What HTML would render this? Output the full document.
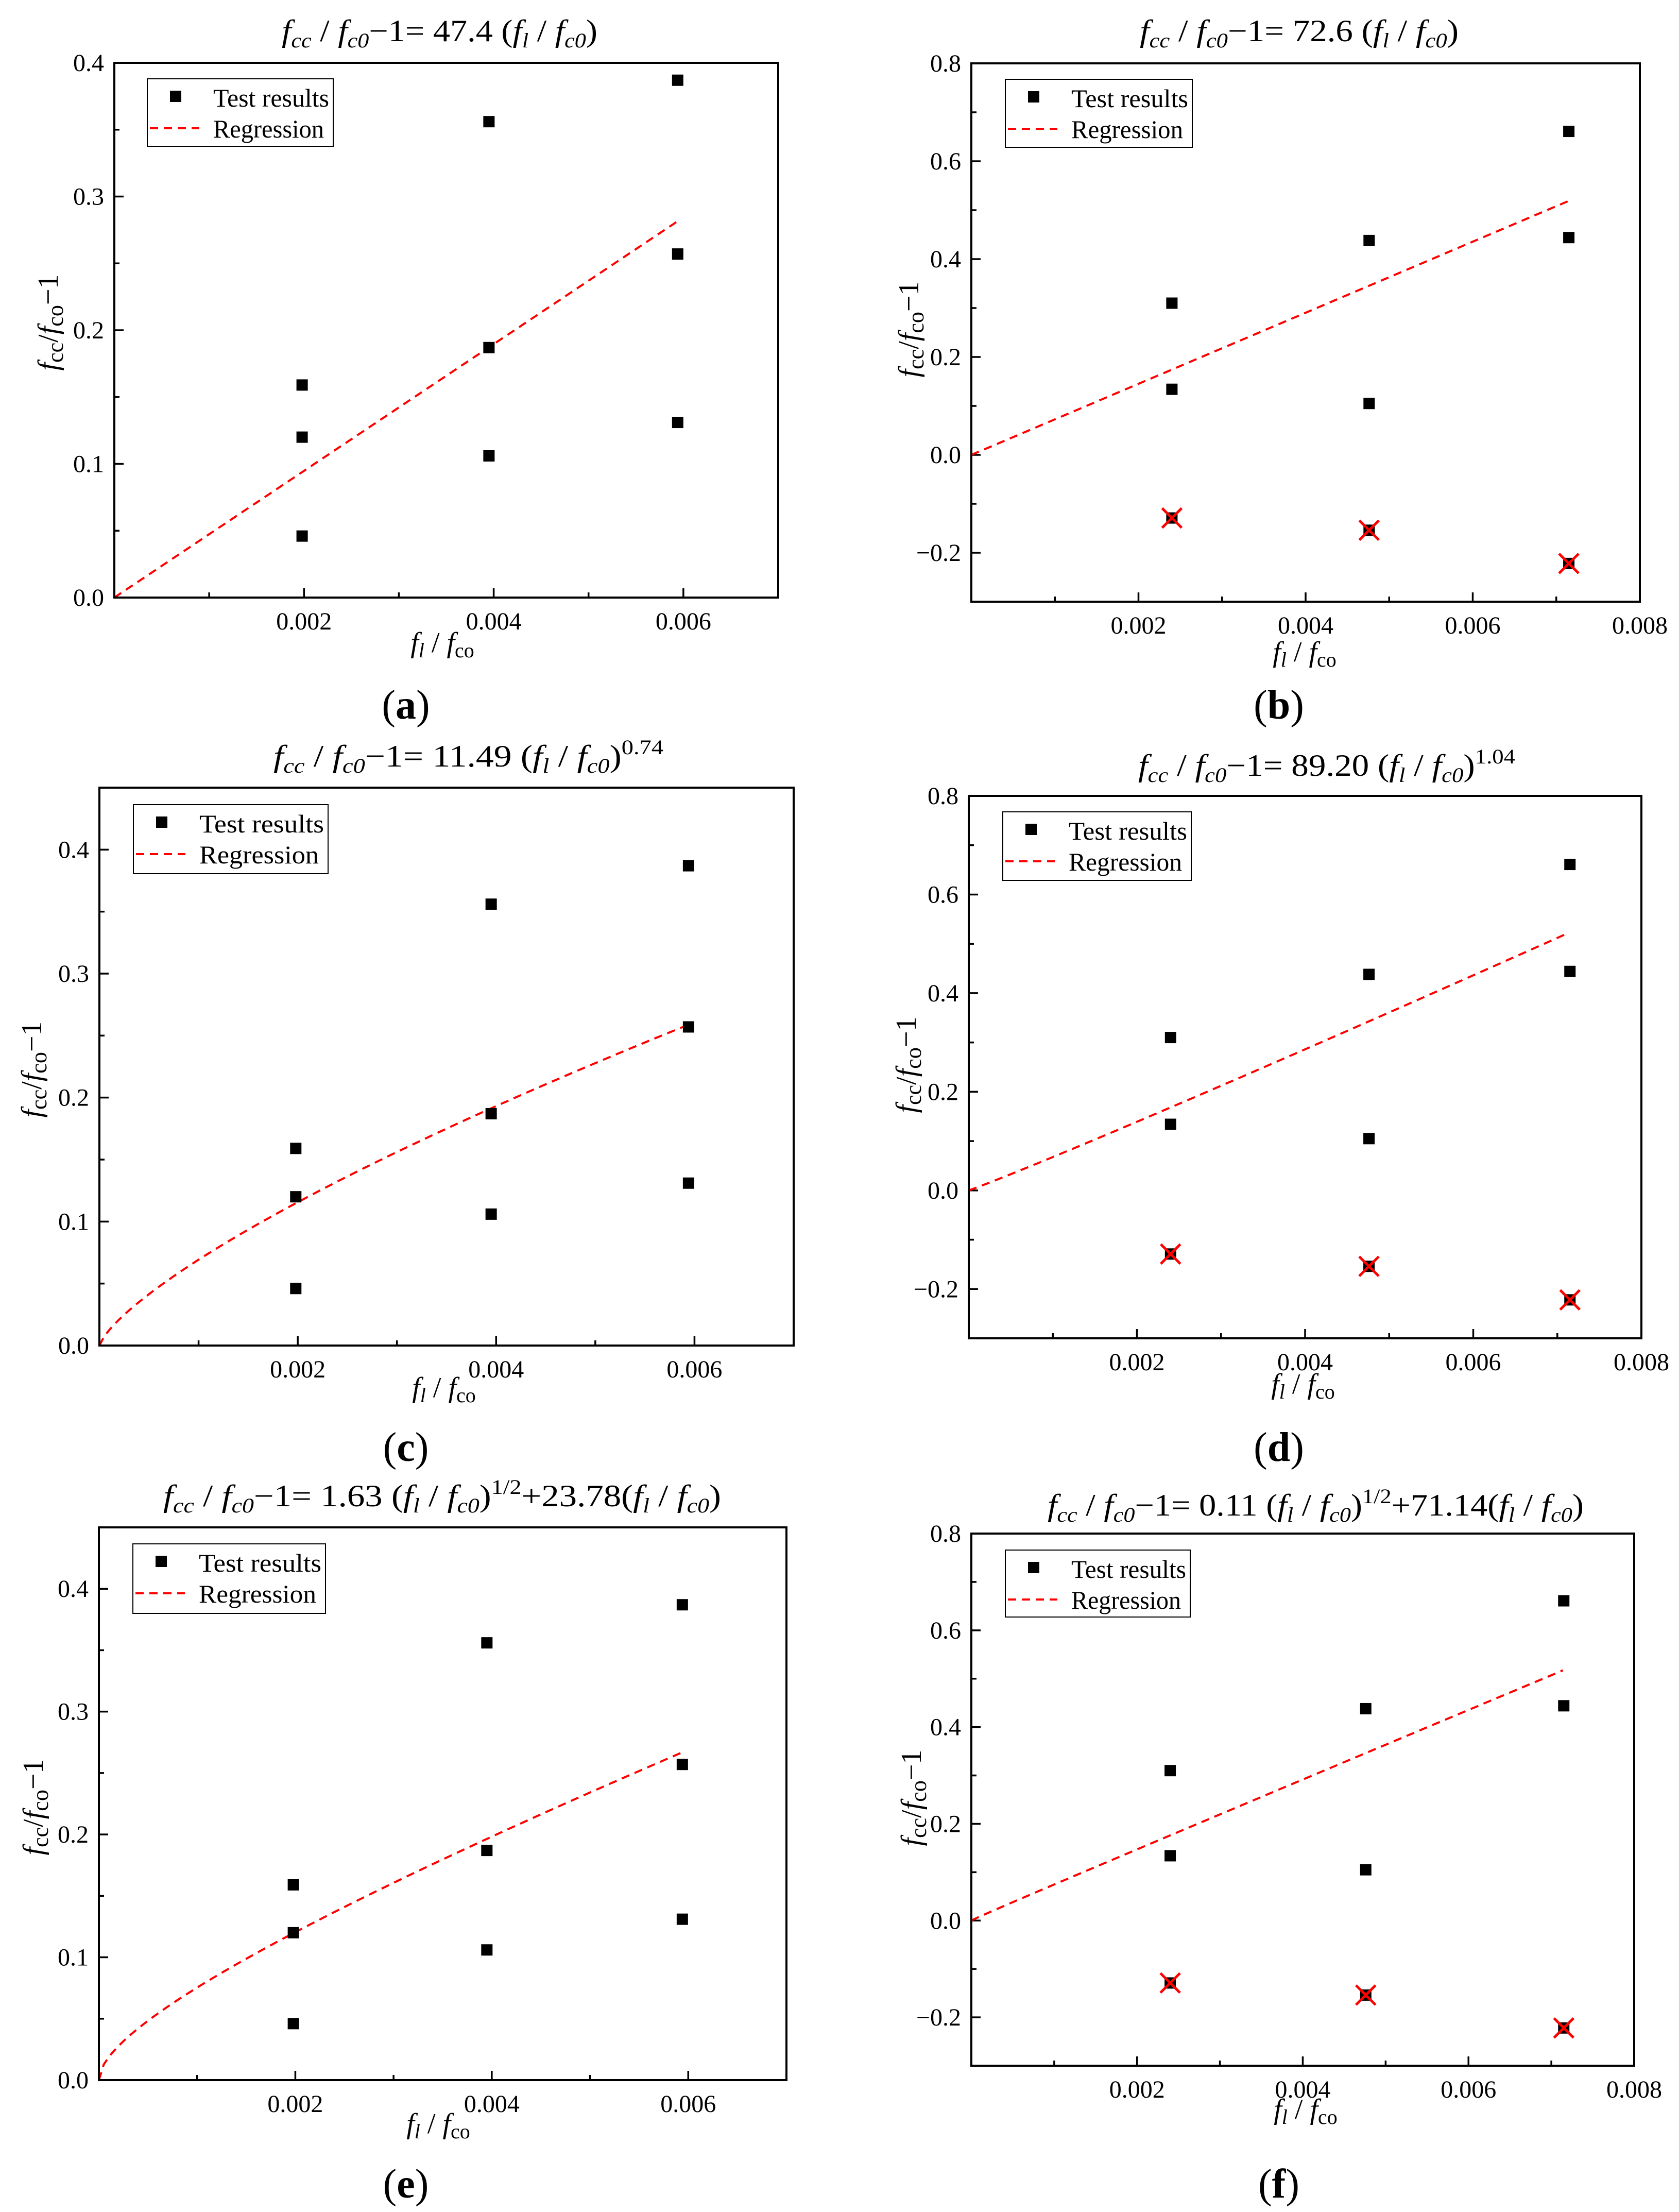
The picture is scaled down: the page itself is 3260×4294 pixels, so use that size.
<!DOCTYPE html>
<html><head><meta charset="utf-8"><style>
html,body{margin:0;padding:0;background:#fff}
svg{display:block}
svg text{font-family:"Liberation Serif","Times New Roman",serif;fill:#000}
</style></head><body>
<svg id="fig" xmlns="http://www.w3.org/2000/svg" width="3260" height="4294" viewBox="0 0 3260 4294" font-family="Liberation Serif, serif"></svg>
<script>
// ---- data ----
const xTestACE = [0.00198,0.00198,0.00198,0.00395,0.00395,0.00395,0.00594,0.00594,0.00594];
const yTestACE = [0.159,0.120,0.046,0.356,0.187,0.106,0.387,0.257,0.131];
const xTestBDF = [0.0024,0.0024,0.0024,0.00476,0.00476,0.00476,0.00715,0.00715,0.00715];
const yTestBDF = [0.310,0.134,-0.129,0.438,0.105,-0.154,0.661,0.444,-0.222];
const excludedBDF = [false,false,true,false,false,true,false,false,true];
const coefA = [47.4];
const coefB = [72.6];
const coefC = [11.49,0.74];
const coefD = [89.20,1.04];
const coefE = [1.63,23.78];
const coefF = [0.11,71.14];
const xTickValsACE = [0.002,0.004,0.006];
const xTickLabelsACE = ["0.002","0.004","0.006"];
const xTickValsBDF = [0.002,0.004,0.006,0.008];
const xTickLabelsBDF = ["0.002","0.004","0.006","0.008"];
const yTickValsACE = [0,0.1,0.2,0.3,0.4];
const yTickLabelsACE = ["0.0","0.1","0.2","0.3","0.4"];
const yTickValsBDF = [-0.2,0,0.2,0.4,0.6,0.8];
const yTickLabelsBDF = ["\u22120.2","0.0","0.2","0.4","0.6","0.8"];

const NS="http://www.w3.org/2000/svg";
const svg=document.getElementById('fig');
const FF='Liberation Serif, serif';
function mk(tag,attrs,parent){const e=document.createElementNS(NS,tag);for(const k in attrs)e.setAttribute(k,attrs[k]);if(tag==='text')e.setAttribute('font-family',FF);(parent||svg).appendChild(e);return e;}

const sub=(s,it)=>`<tspan ${it?'font-style="italic" ':''}font-size="40" dy="12">${s}</tspan>`;
const F='<tspan font-style="italic">f</tspan>';
const head=F+sub('cc',1)+'<tspan dy="-12"> / </tspan>'+F+sub('c0',1);
const ratio=F+sub('l',1)+'<tspan dy="-12"> / </tspan>'+F+sub('c0',1);

const panels=[
 {id:'a',L:222,R:1511,T:122,B:1160,xmax:0.007,ymin:0,ymax:0.4,grp:'ACE',fn:x=>coefA[0]*x,xend:0.00594,
  title:head+'<tspan dy="-12">\u22121= 47.4 (</tspan>'+ratio+'<tspan dy="-12">)</tspan>',
  tx0:547,tx1:1160,ty:80,ylx:94,yly:626,xlx:859,xly:1274,lx:286,ly:153,lw:361,lh:131,px:788,py:1395},
 {id:'b',L:1886,R:3184,T:123,B:1168,xmax:0.008,ymin:-0.3,ymax:0.8,grp:'BDF',fn:x=>coefB[0]*x,xend:0.00714,
  title:head+'<tspan dy="-12">\u22121= 72.6 (</tspan>'+ratio+'<tspan dy="-12">)</tspan>',
  tx0:2213,tx1:2832,ty:80,ylx:1765,yly:639,xlx:2533,xly:1292,lx:1952,ly:154,lw:363,lh:132,px:2483,py:1395},
 {id:'c',L:193,R:1541,T:1529,B:2612,xmax:0.007,ymin:0,ymax:0.45,grp:'ACE',fn:x=>coefC[0]*Math.pow(x,coefC[1]),xend:0.00594,
  title:head+'<tspan dy="-12">\u22121= 11.49 (</tspan>'+ratio+'<tspan dy="-12">)</tspan><tspan font-size="40" dy="-24">0.74</tspan>',
  tx0:531,tx1:1288,ty:1488,ylx:62,yly:2076,xlx:862,xly:2720,lx:259,ly:1562,lw:378,lh:134,px:788,py:2836},
 {id:'d',L:1881,R:3187,T:1545,B:2598,xmax:0.008,ymin:-0.3,ymax:0.8,grp:'BDF',fn:x=>coefD[0]*Math.pow(x,coefD[1]),xend:0.00714,
  title:head+'<tspan dy="-12">\u22121= 89.20 (</tspan>'+ratio+'<tspan dy="-12">)</tspan><tspan font-size="40" dy="-24">1.04</tspan>',
  tx0:2210,tx1:2942,ty:1506,ylx:1760,yly:2067,xlx:2530,xly:2713,lx:1947,ly:1576,lw:366,lh:133,px:2483,py:2836},
 {id:'e',L:192,R:1527,T:2965,B:4038,xmax:0.007,ymin:0,ymax:0.45,grp:'ACE',fn:x=>coefE[0]*Math.sqrt(x)+coefE[1]*x,xend:0.00594,
  title:head+'<tspan dy="-12">\u22121= 1.63 (</tspan>'+ratio+'<tspan dy="-12">)</tspan><tspan font-size="40" dy="-24">1/2</tspan><tspan dy="24">+23.78(</tspan>'+ratio+'<tspan dy="-12">)</tspan>',
  tx0:317,tx1:1400,ty:2924,ylx:65,yly:3508,xlx:851,xly:4149,lx:258,ly:2997,lw:374,lh:135,px:788,py:4266},
 {id:'f',L:1886,R:3173,T:2977,B:4010,xmax:0.008,ymin:-0.3,ymax:0.8,grp:'BDF',fn:x=>coefF[0]*Math.sqrt(x)+coefF[1]*x,xend:0.00714,
  title:head+'<tspan dy="-12">\u22121= 0.11 (</tspan>'+ratio+'<tspan dy="-12">)</tspan><tspan font-size="40" dy="-24">1/2</tspan><tspan dy="24">+71.14(</tspan>'+ratio+'<tspan dy="-12">)</tspan>',
  tx0:2034,tx1:3075,ty:2942,ylx:1770,yly:3490,xlx:2535,xly:4121,lx:1952,ly:3009,lw:359,lh:130,px:2483,py:4266}
];

panels.forEach(p=>{
  const g=mk('g',{});
  
  
  const xs=v=>p.L+(v/p.xmax)*(p.R-p.L);
  const ys=v=>p.B-(v-p.ymin)/(p.ymax-p.ymin)*(p.B-p.T);
  const ace=p.grp==='ACE';
  const xd=ace?xTestACE:xTestBDF, yd=ace?yTestACE:yTestBDF;
  const xtv=ace?xTickValsACE:xTickValsBDF, xtl=ace?xTickLabelsACE:xTickLabelsBDF;
  const ytv=ace?yTickValsACE:yTickValsBDF, ytl=ace?yTickLabelsACE:yTickLabelsBDF;

  const t=mk('text',{x:(p.tx0+p.tx1)/2,y:p.ty,'font-size':60,'text-anchor':'middle',textLength:p.tx1-p.tx0,lengthAdjust:'spacingAndGlyphs'},g);
  t.innerHTML=p.title;
  
  

  const ystep=ace?0.05:0.1;
  for(let v=p.ymin;v<=p.ymax+1e-9;v+=ystep){
    const yy=ys(v);
    const major=ytv.some(m=>Math.abs(m-v)<1e-6);
    const tk=mk('line',{x1:p.L,x2:p.L+(major?18:10),y1:yy,y2:yy,stroke:'#000','stroke-width':3.5},g);
    
    
  }
  for(let v=0.001;v<p.xmax-1e-9;v+=0.001){
    const xx=xs(v);
    const major=xtv.some(m=>Math.abs(m-v)<1e-6);
    const tk=mk('line',{x1:xx,x2:xx,y1:p.B,y2:p.B-(major?18:10),stroke:'#000','stroke-width':3.5},g);
    
    
  }
  xtv.forEach((v,i)=>{
    const tl=mk('text',{x:xs(v),y:p.B+62,'font-size':48,'text-anchor':'middle'},g);
    tl.textContent=xtl[i];
    
    
  });
  ytv.forEach((v,i)=>{
    const tl=mk('text',{x:p.L-20,y:ys(v)+16,'font-size':48,'text-anchor':'end'},g);
    tl.textContent=ytl[i];
    
    
  });

  const pts=[];
  for(let i=0;i<=120;i++){const x=p.xend*i/120;pts.push(xs(x).toFixed(1)+','+ys(p.fn(x)).toFixed(1));}
  const rl=mk('polyline',{points:pts.join(' '),fill:'none',stroke:'#ff0000','stroke-width':4,'stroke-dasharray':'16,11'},g);
  
  

  xd.forEach((x,i)=>{
    const cx=xs(x),cy=ys(yd[i]);
    const r=mk('rect',{x:cx-11,y:cy-11,width:22,height:22,fill:'#000'},g);
    
    
    if(!ace && excludedBDF[i]){
      const c=mk('path',{d:`M${cx-19},${cy-19}L${cx+19},${cy+19}M${cx+19},${cy-19}L${cx-19},${cy+19}`,stroke:'#ff0000','stroke-width':5,fill:'none'},g);
      
      
    }
  });

  const fr=mk('rect',{x:p.L,y:p.T,width:p.R-p.L,height:p.B-p.T,fill:'none',stroke:'#000','stroke-width':4},g);
  
  

  const lg=mk('g',{},g);
  
  
  mk('rect',{x:p.lx,y:p.ly,width:p.lw,height:p.lh,fill:'#fff',stroke:'#000','stroke-width':2},lg);
  const lm=mk('rect',{x:p.lx+44,y:p.ly+23,width:22,height:22,fill:'#000'},lg);
  
  
  const lt1=mk('text',{x:p.lx+128,y:p.ly+54,'font-size':50,textLength:p.lw-136,lengthAdjust:'spacingAndGlyphs'},lg);
  lt1.textContent='Test results';
  
  
  const ll=mk('line',{x1:p.lx+5,x2:p.lx+101,y1:p.ly+96,y2:p.ly+96,stroke:'#ff0000','stroke-width':4,'stroke-dasharray':'16,11'},lg);
  
  
  const lt2=mk('text',{x:p.lx+128,y:p.ly+114,'font-size':50,textLength:p.lw-146,lengthAdjust:'spacingAndGlyphs'},lg);
  lt2.textContent='Regression';
  
  

  const yl=mk('text',{x:0,y:0,'font-size':56,'text-anchor':'middle',transform:`translate(${p.ylx+18},${p.yly}) rotate(-90)`},g);
  yl.innerHTML='<tspan font-style="italic">f</tspan><tspan font-size="44" dy="10">cc</tspan><tspan dy="-10">/</tspan><tspan font-style="italic">f</tspan><tspan font-size="44" dy="10">co</tspan><tspan dy="-10">\u22121</tspan>';
  
  
  const xl=mk('text',{x:p.xlx,y:p.xly-8,'font-size':56,'text-anchor':'middle'},g);
  xl.innerHTML='<tspan font-style="italic">f</tspan><tspan font-style="italic" font-size="40" dy="10">l</tspan><tspan dy="-10"> / </tspan><tspan font-style="italic">f</tspan><tspan font-size="40" dy="10">co</tspan>';
  
  

  const pl=mk('text',{x:p.px,y:p.py,'font-size':80,'text-anchor':'middle'},g);
  pl.innerHTML='(<tspan font-weight="bold">'+p.id+'</tspan>)';
  
  
});
</script>
</body></html>
